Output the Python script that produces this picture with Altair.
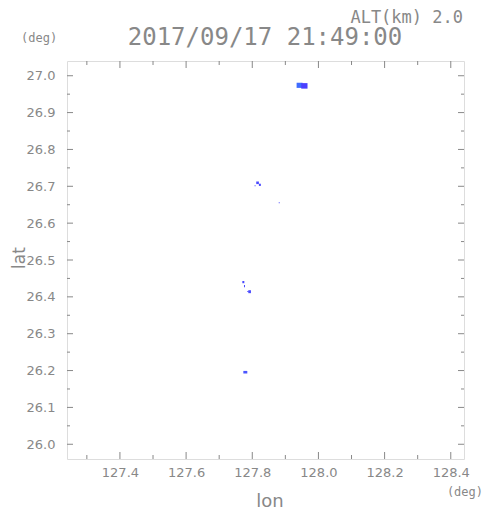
import altair as alt
import pandas as pd

# --- data ---
lon_range = [127.24, 128.44]
lat_range = [25.96, 27.04]

x_major = [127.4, 127.6, 127.8, 128.0, 128.2, 128.4]
x_minor = [127.3, 127.5, 127.7, 127.9, 128.1, 128.3]
y_major = [26.0, 26.1, 26.2, 26.3, 26.4, 26.5, 26.6, 26.7, 26.8, 26.9, 27.0]
y_minor = [26.05, 26.15, 26.25, 26.35, 26.45, 26.55, 26.65, 26.75, 26.85, 26.95]

# echo cells (lon/lat extents) and their shades
cell_lon0 = [127.934, 127.948, 127.812, 127.820, 127.807, 127.880, 127.770, 127.775, 127.788, 127.785, 127.773]
cell_lon1 = [127.952, 127.967, 127.820, 127.826, 127.810, 127.883, 127.776, 127.778, 127.796, 127.789, 127.785]
cell_lat0 = [26.967, 26.965, 26.706, 26.701, 26.700, 26.654, 26.437, 26.426, 26.410, 26.413, 26.192]
cell_lat1 = [26.981, 26.980, 26.713, 26.707, 26.703, 26.657, 26.443, 26.432, 26.418, 26.416, 26.199]
cell_col = ["#3f6cff", "#4a40ff", "#4a4aff", "#4a4aff", "#4a4aff", "#4a4aff",
            "#4a4aff", "#4a4aff", "#4a4aff", "#4a4aff", "#4a55ff"]

W, H = 397, 398
GRAY = "#888888"
FONT = "DejaVu Sans"
MONO = "DejaVu Sans Mono"

cells = pd.DataFrame({"lon0": cell_lon0, "lon1": cell_lon1,
                      "lat0": cell_lat0, "lat1": cell_lat1, "col": cell_col})

xs = alt.Scale(domain=lon_range, nice=False, zero=False)
ys = alt.Scale(domain=lat_range, nice=False, zero=False)
xax = alt.Axis(values=x_major, format=".1f", title=None, grid=False, ticks=False,
               domain=False, labelColor=GRAY, labelFont=FONT, labelFontSize=13, labelPadding=7)
yax = alt.Axis(values=y_major, format=".1f", title=None, grid=False, ticks=False,
               domain=False, labelColor=GRAY, labelFont=FONT, labelFontSize=13, labelPadding=12)

base = alt.Chart(cells).mark_rect().encode(
    x=alt.X("lon0:Q", scale=xs, axis=xax),
    x2="lon1:Q",
    y=alt.Y("lat0:Q", scale=ys, axis=yax),
    y2="lat1:Q",
    color=alt.Color("col:N", scale=None),
)

def xticks(vals, y0, y1):
    return alt.Chart(pd.DataFrame({"v": vals})).mark_rule(color=GRAY, strokeWidth=1).encode(
        x=alt.X("v:Q", scale=xs, axis=xax), y=alt.value(y0), y2=alt.value(y1))

def yticks(vals, x0, x1):
    return alt.Chart(pd.DataFrame({"v": vals})).mark_rule(color=GRAY, strokeWidth=1).encode(
        y=alt.Y("v:Q", scale=ys, axis=yax), x=alt.value(x0), x2=alt.value(x1))

ticks = [
    xticks(x_major, H, H - 7), xticks(x_minor, H, H - 4),
    xticks(x_major, 0, 7), xticks(x_minor, 0, 4),
    yticks(y_major, 0, 6), yticks(y_minor, 0, 3),
    yticks(y_major, W, W - 6), yticks(y_minor, W, W - 3),
]

def label(text, x, y, size, align="left", font=MONO, angle=0):
    return alt.Chart(pd.DataFrame({"t": [text]})).mark_text(
        align=align, baseline="alphabetic", fontSize=size, font=font, color=GRAY, angle=angle
    ).encode(text="t:N", x=alt.value(x), y=alt.value(y))

texts = [
    label("2017/09/17 21:49:00", 198, -16, 24, align="center"),
    label("ALT(km) 2.0", 396, -38, 17, align="right"),
    label("(deg)", -46, -19, 12),
    label("(deg)", 416, 435, 12, align="right"),
    label("lon", 203, 446, 18, align="center", font=FONT),
    alt.Chart(pd.DataFrame({"t": ["lat"]})).mark_text(
        align="center", baseline="middle", fontSize=17, font=FONT, color=GRAY, angle=270
    ).encode(text="t:N", x=alt.value(-47), y=alt.value(197)),
]

chart = alt.layer(base, *ticks, *texts).properties(
    width=W, height=H,
    autosize=alt.AutoSizeParams(type="none"),
    padding={"left": 59, "top": 53, "right": 19, "bottom": 54},
).configure_view(stroke=GRAY, strokeWidth=1).configure(background="white")

chart.save("out.html", embed_options={"renderer": "svg", "actions": False})
